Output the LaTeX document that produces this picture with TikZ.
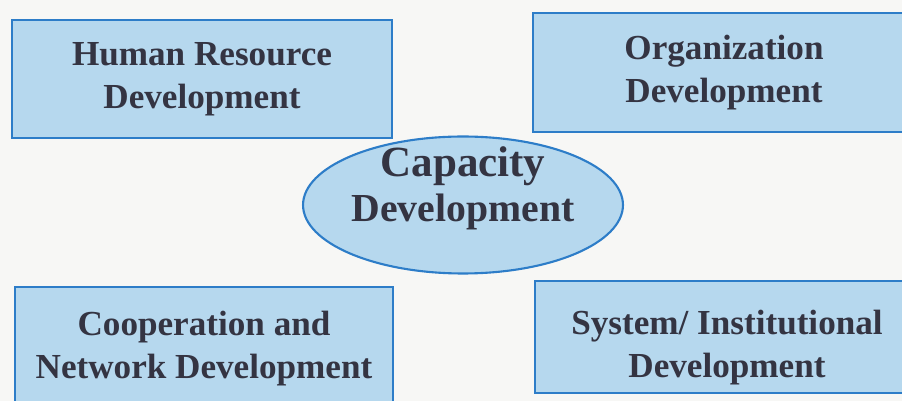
\documentclass[tikz,border=0pt]{standalone}
\usepackage{fontspec}
\setmainfont{Liberation Serif}
\usetikzlibrary{shapes.geometric}

\definecolor{boxfill}{RGB}{182,216,238}
\definecolor{boxline}{RGB}{45,125,200}
\definecolor{ink}{RGB}{52,52,66}
\definecolor{paper}{RGB}{247,247,245}

\tikzset{
  caption/.style={text=ink, align=center, font=\bfseries\fontsize{20}{24.5}\selectfont},
  area/.style={rectangle, draw=boxline, line width=1.1pt, fill=boxfill, inner sep=0pt, caption},
  hub/.style={ellipse, draw=boxline, line width=1.2pt, fill=boxfill, inner sep=0pt},
  hubtext/.style={text=ink, align=center, font=\bfseries\fontsize{22.6}{25.6}\selectfont}
}

\begin{document}
\begin{tikzpicture}[x=0.02cm, y=-0.02cm]
  \useasboundingbox (0,0) rectangle (902,401);
  \fill[paper] (0,0) rectangle (902,401);
  \clip (0,0) rectangle (902,401);
  % the four fields
  \node[area, minimum width=7.6cm, minimum height=2.36cm] (hrd) at (202,79) {Human Resource\\Development};
  \node[area, minimum width=7.64cm, minimum height=2.38cm] (org) at (724,72.5) {Organization\\Development};
  \node[area, minimum width=7.56cm, minimum height=2.46cm] (coop) at (204,348.5) {Cooperation and\\Network Development};
  \node[area, minimum width=7.6cm, minimum height=2.24cm] (sys) at (725,337) {};
  \node[caption] (systext) at (727,348) {System/ Institutional\\Development};
  % centre
  \node[hub, minimum width=6.4cm, minimum height=2.74cm] (cap) at (463,205) {};
  \node[hubtext] (captext) at (463,188) {{\fontsize{24.5}{25.6}\selectfont Capacity}\\Development};
\end{tikzpicture}
\end{document}
